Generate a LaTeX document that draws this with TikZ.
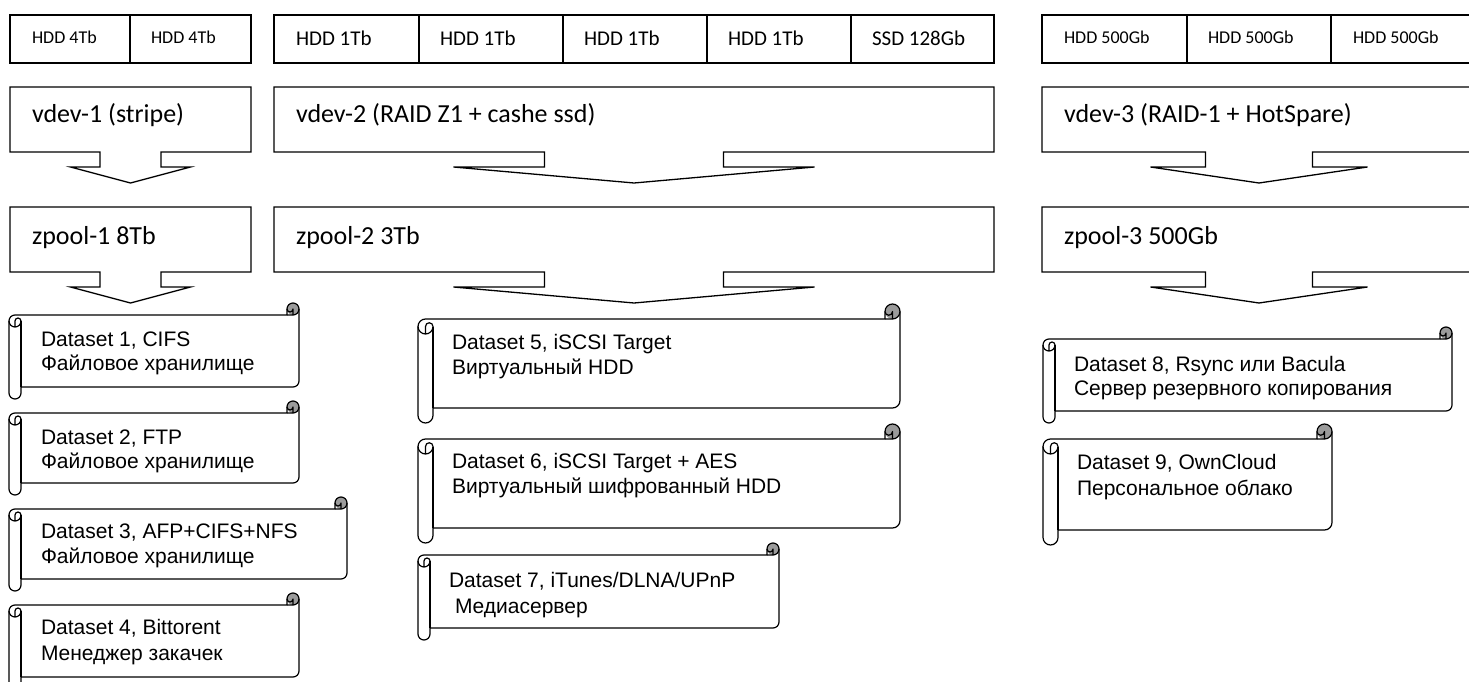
\documentclass[tikz,border=0pt]{standalone}
\usepackage{fontspec}
\newfontfamily\calib{Carlito}
\newfontfamily\arialf{Liberation Sans}
\usetikzlibrary{calc}

% horizontal scroll: left, top, right, bottom, curl size (pixel coords, y down)
\newcommand\dscroll[5]{%
  \pgfmathsetmacro\sL{#1}\pgfmathsetmacro\sT{#2}%
  \pgfmathsetmacro\sR{#3}\pgfmathsetmacro\sB{#4}%
  \pgfmathsetmacro\sc{#5}\pgfmathsetmacro\sh{#5/2}\pgfmathsetmacro\sq{#5/4}%
  \def\scrolloutline{(\sL,\sT+1.5*\sc) arc[start angle=180,end angle=270,radius=\sh]
    -- (\sR-\sc,\sT+\sc) -- (\sR-\sc,\sT+\sh) arc[start angle=180,end angle=360,radius=\sh]
    -- (\sR,\sB-1.5*\sc) arc[start angle=0,end angle=90,radius=\sh]
    -- (\sL+\sc,\sB-\sc) -- (\sL+\sc,\sB-\sh) arc[start angle=0,end angle=180,radius=\sh] -- cycle}%
  \fill[white] \scrolloutline;
  \fill[curlgray] (\sR-\sh,\sT+\sh) circle[radius=\sh];
  \draw[scrollline] \scrolloutline;
  \draw[scrollline] (\sR-\sc,\sT+\sc) -- (\sR-\sh,\sT+\sc) arc[start angle=90,end angle=0,radius=\sh];
  \draw[scrollline] (\sR-\sh,\sT+\sc) -- (\sR-\sh,\sT+\sh) arc[start angle=0,end angle=180,radius=\sq];
  \draw[scrollline] (\sL+\sh,\sT+2*\sc) -- (\sL+\sh,\sT+1.5*\sc) arc[start angle=180,end angle=360,radius=\sq]
    arc[start angle=0,end angle=180,radius=\sh];
  \draw[scrollline] (\sL+\sc,\sT+1.5*\sc) -- (\sL+\sc,\sB-\sc);
}

% box with down-arrow callout: node, stem half width, wing half width
\newcommand\calloutdraw[3]{%
  \draw[boxline] (#1.south west) -- (#1.north west) -- (#1.north east) -- (#1.south east)
    -- ($(#1.south)+(#2,0)$) -- ($(#1.south)+(#2,15)$) -- ($(#1.south)+(#3,15)$)
    -- ($(#1.south)+(0,31)$) -- ($(#1.south)+(-#3,15)$) -- ($(#1.south)+(-#2,15)$)
    -- ($(#1.south)+(-#2,0)$) -- cycle;}

\definecolor{curlgray}{RGB}{155,155,155}

\begin{document}
\begin{tikzpicture}[x=1pt,y=-1pt,
  boxline/.style={draw=black, line width=1.3pt, line join=miter},
  frame/.style={inner sep=0pt, outer sep=0pt, draw=none, minimum height=65pt},
  disk/.style={draw=black, line width=1.3pt, inner sep=0pt, outer sep=0pt, minimum height=48pt},
  lab/.style={inner sep=0pt, outer sep=0pt, anchor=base west},
  sdisk/.style={lab, font=\calib\fontsize{18}{21}\selectfont},
  bdisk/.style={lab, font=\calib\fontsize{21}{25}\selectfont},
  big/.style={lab, font=\calib\fontsize{26}{31}\selectfont},
  stext/.style={lab, font=\arialf\fontsize{21}{25}\selectfont},
  scrollline/.style={draw=black, line width=1.2pt, line join=round}]

\path[use as bounding box] (0,0) rectangle (1469,682);
\clip (0,0) rectangle (1469,682);

% ---- disks ----
\node[disk, minimum width=120pt] (hdd1) at (70,39) {};
\node[disk, minimum width=121pt] (hdd2) at (190.5,39) {};
\node[disk, minimum width=145pt] (hdd3) at (346.5,39) {};
\node[disk, minimum width=144pt] (hdd4) at (491,39) {};
\node[disk, minimum width=144pt] (hdd5) at (635,39) {};
\node[disk, minimum width=144pt] (hdd6) at (779,39) {};
\node[disk, minimum width=143pt] (ssd1) at (922.5,39) {};
\node[disk, minimum width=145pt] (hdd7) at (1114.5,39) {};
\node[disk, minimum width=144pt] (hdd8) at (1259,39) {};
\node[disk, minimum width=144pt] (hdd9) at (1403,39) {};

\node[sdisk] (l1) at (32,44) {HDD 4Tb};
\node[sdisk] (l2) at (151,44) {HDD 4Tb};
\node[bdisk] (l3) at (296,45.5) {HDD 1Tb};
\node[bdisk] (l4) at (440,45.5) {HDD 1Tb};
\node[bdisk] (l5) at (584,45.5) {HDD 1Tb};
\node[bdisk] (l6) at (728,45.5) {HDD 1Tb};
\node[bdisk] (l7) at (872,45.5) {SSD 128Gb};
\node[sdisk] (l8) at (1064,44) {HDD 500Gb};
\node[sdisk] (l9) at (1208,44) {HDD 500Gb};
\node[sdisk] (l10) at (1353,44) {HDD 500Gb};

% ---- vdevs ----
\node[frame, minimum width=241pt] (v1) at (130.5,119.5) {};
\node[frame, minimum width=720pt] (v2) at (634,119.5) {};
\node[frame, minimum width=434pt] (v3) at (1259,119.5) {};
\calloutdraw{v1}{30.5}{60}
\calloutdraw{v2}{89.5}{180.5}
\calloutdraw{v3}{53.5}{108.5}
\node[big] (v1t) at (32,123) {vdev-1 (stripe)};
\node[big] (v2t) at (296,123) {vdev-2 (RAID Z1 + cashe ssd)};
\node[big] (v3t) at (1064,123) {vdev-3 (RAID-1 + HotSpare)};

% ---- zpools ----
\node[frame, minimum width=241pt] (z1) at (130.5,239.5) {};
\node[frame, minimum width=720pt] (z2) at (634,239.5) {};
\node[frame, minimum width=434pt] (z3) at (1259,239.5) {};
\calloutdraw{z1}{30.5}{60}
\calloutdraw{z2}{89.5}{180.5}
\calloutdraw{z3}{53.5}{108.5}
\node[big] (z1t) at (32,244) {zpool-1 8Tb};
\node[big] (z2t) at (296,244) {zpool-2 3Tb};
\node[big] (z3t) at (1064,244) {zpool-3 500Gb};

% ---- datasets ----
\dscroll{9}{303}{299}{399}{12}
\dscroll{9}{401}{299}{495}{12}
\dscroll{9}{497}{347}{591}{12}
\dscroll{9}{593}{299}{689}{12}
\dscroll{418}{304}{900}{423}{15}
\dscroll{418}{424}{900}{543}{15}
\dscroll{418}{543}{779}{640}{12}
\dscroll{1043}{327}{1452}{423}{12}
\dscroll{1043}{424}{1332}{545}{15}

\node[stext] (t1a) at (41,346) {Dataset 1, CIFS};
\node[stext] (t1b) at (41,370) {Файловое хранилище};
\node[stext] (t2a) at (41,444) {Dataset 2, FTP};
\node[stext] (t2b) at (41,468) {Файловое хранилище};
\node[stext] (t3a) at (41,538) {Dataset 3, AFP+CIFS+NFS};
\node[stext] (t3b) at (41,563) {Файловое хранилище};
\node[stext] (t4a) at (41,634) {Dataset 4, Bittorent};
\node[stext] (t4b) at (41,660) {Менеджер закачек};
\node[stext] (t5a) at (452,349) {Dataset 5, iSCSI Target};
\node[stext] (t5b) at (452,374) {Виртуальный HDD};
\node[stext] (t6a) at (452,468) {Dataset 6, iSCSI Target + AES};
\node[stext] (t6b) at (452,493) {Виртуальный шифрованный HDD};
\node[stext] (t7a) at (449,587) {Dataset 7, iTunes/DLNA/UPnP};
\node[stext] (t7b) at (455,613) {Медиасервер};
\node[stext] (t8a) at (1074,371) {Dataset 8, Rsync или Bacula};
\node[stext] (t8b) at (1074,395) {Сервер резервного копирования};
\node[stext] (t9a) at (1077,469) {Dataset 9, OwnCloud};
\node[stext] (t9b) at (1077,495) {Персональное облако};
\end{tikzpicture}
\end{document}
